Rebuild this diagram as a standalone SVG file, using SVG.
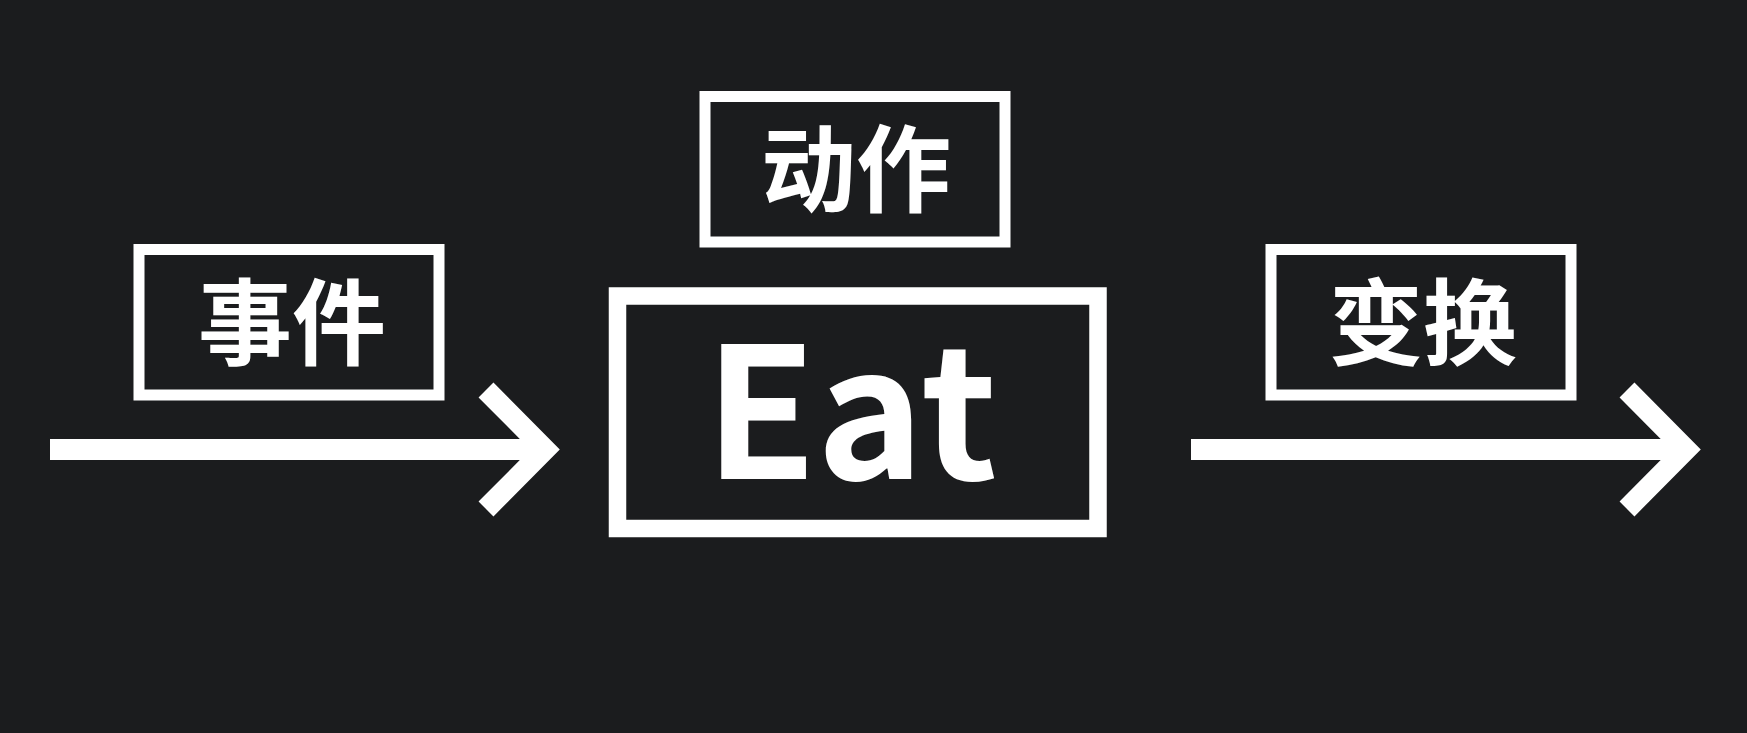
<svg xmlns="http://www.w3.org/2000/svg" width="1747" height="733" viewBox="0 0 1747 733">
<style>
.box{fill:none;stroke:#ffffff}
.lbl{fill:#ffffff;font-family:"Noto Sans CJK SC","Noto Sans",sans-serif;font-weight:700;text-anchor:middle}
.conn{fill:none;stroke:#ffffff;stroke-width:21;stroke-linejoin:miter;stroke-miterlimit:10;stroke-linecap:butt}
</style>
<rect x="0" y="0" width="1747" height="733" fill="#1b1c1e"/>
<g id="connectors">
<g id="arrow-event">
<line class="conn" x1="50" y1="449.5" x2="548" y2="449.5"/>
<polyline class="conn" points="486,390 545,449.5 486,509"/>
</g>
<g id="arrow-transform">
<line class="conn" x1="1191" y1="449.5" x2="1689" y2="449.5"/>
<polyline class="conn" points="1627,390 1686,449.5 1627,509"/>
</g>
</g>
<g id="node-event">
<rect class="box" x="139" y="249.5" width="300" height="145.5" stroke-width="11"/>
<text class="lbl" x="292" y="358" font-size="94">事件</text>
</g>
<g id="node-action">
<rect class="box" x="705" y="96.5" width="300" height="145.5" stroke-width="11"/>
<text class="lbl" x="856" y="205" font-size="95">动作</text>
</g>
<g id="node-eat">
<rect class="box" x="617.5" y="296" width="480.5" height="232.5" stroke-width="17.5"/>
<text class="lbl" x="851" y="479" font-size="182">Eat</text>
</g>
<g id="node-transform">
<rect class="box" x="1271" y="249.5" width="300" height="145.5" stroke-width="11"/>
<text class="lbl" x="1423" y="358" font-size="94">变换</text>
</g>
</svg>
